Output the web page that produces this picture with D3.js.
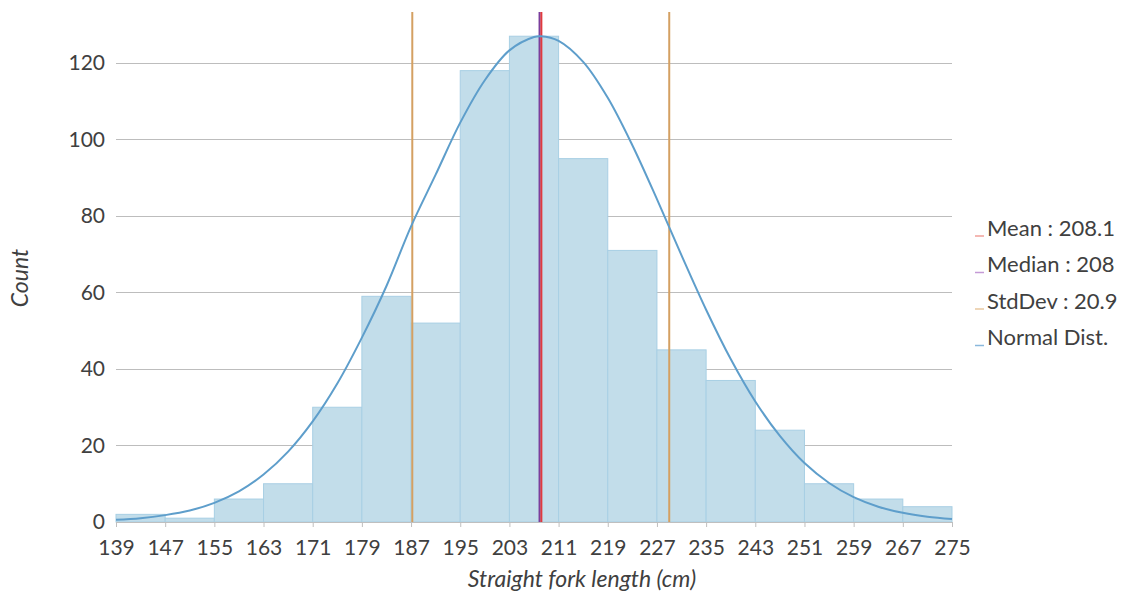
<!DOCTYPE html>
<html lang="en">
<head>
    <meta charset="UTF-8">
    <title>Straight fork length histogram</title>
    <script src="https://d3js.org/d3.v7.min.js"></script>
    <style>
        body { margin: 0; background: #fff; }
        svg text { font-family: Lato, "Open Sans", sans-serif; fill: #404040; }
    </style>
</head>
<body>
    <script>
        // histogram bins (lower edge, width 8)
        const binEdges = [139, 147, 155, 163, 171, 179, 187, 195, 203, 211, 219, 227, 235, 243, 251, 259, 267, 275];
        const counts = [2, 1, 6, 10, 30, 59, 52, 118, 127, 95, 71, 45, 37, 24, 10, 6, 4];

        // normal dist curve
        const curveX = [139, 143, 147, 151, 155, 159, 163, 167, 171, 175, 179, 183, 187, 191, 195, 199, 203, 207, 208.1,
                        211, 215, 219, 223, 227, 231, 235, 239, 243, 247, 251, 255, 259, 263, 267, 271, 275];
        const curveY = [0.6, 1.0, 1.8, 3.0, 5.0, 8.0, 12.4, 18.4, 26.3, 36.2, 48.2, 61.7, 77.3, 90.8, 104.4, 115.5, 123.3, 126.8, 127,
                        125.8, 120.3, 110.9, 98.5, 84.4, 69.7, 55.5, 42.6, 31.5, 22.5, 15.4, 10.2, 6.5, 4.0, 2.4, 1.4, 0.8];

        const yTicks = [0, 20, 40, 60, 80, 100, 120];
        const mean = 208.1, median = 208, stdDev = 20.9;
        const legendItems = ["Mean : 208.1", "Median : 208", "StdDev : 20.9", "Normal Dist."];
        const legendColors = ["#f0a09a", "#c49ad6", "#e8c8a0", "#8ab8dc"];

        const W = 1124, H = 592;
        const plotLeft = 116, plotRight = 952, plotTop = 12, plotBottom = 522;

        const svg = d3.select("body").append("svg")
            .attr("width", W).attr("height", H);

        const x = d3.scaleLinear().domain([139, 275]).range([plotLeft, plotRight]);
        const y = d3.scaleLinear().domain([0, 133.33]).range([plotBottom, plotTop]);

        // gridlines
        svg.append("g").selectAll("line")
            .data(yTicks.filter(d => d > 0))
            .enter().append("line")
            .attr("x1", plotLeft).attr("x2", plotRight)
            .attr("y1", d => Math.round(y(d)) + 0.5).attr("y2", d => Math.round(y(d)) + 0.5)
            .attr("stroke", "#bdbdbd").attr("stroke-width", 1);

        // y labels
        svg.append("g").selectAll("text")
            .data(yTicks)
            .enter().append("text")
            .attr("x", 105).attr("y", d => y(d))
            .attr("dy", "0.35em")
            .attr("text-anchor", "end")
            .style("font-size", "21px")
            .text(d => d);

        // bars
        svg.append("g").selectAll("rect")
            .data(counts)
            .enter().append("rect")
            .attr("x", (d, i) => x(binEdges[i]))
            .attr("width", (d, i) => x(binEdges[i + 1]) - x(binEdges[i]))
            .attr("y", d => y(d))
            .attr("height", d => y(0) - y(d))
            .attr("fill", "#c2ddea")
            .attr("stroke", "#a8cfe4")
            .attr("stroke-width", 1);

        // x axis
        const xAxis = d3.axisBottom(x)
            .tickValues(binEdges)
            .tickSize(5)
            .tickPadding(13)
            .tickFormat(d3.format("d"));
        const gx = svg.append("g")
            .attr("transform", `translate(0,${plotBottom})`)
            .call(xAxis);
        gx.select(".domain").attr("stroke", "#bfbfbf");
        gx.selectAll(".tick line").attr("stroke", "#bfbfbf");
        gx.selectAll(".tick text")
            .style("font-size", "21px")
            .style("font-family", "Lato, 'Open Sans', sans-serif")
            .attr("fill", "#404040");

        // std dev lines
        svg.append("g").selectAll("line")
            .data([mean - stdDev, mean + stdDev])
            .enter().append("line")
            .attr("x1", d => x(d)).attr("x2", d => x(d))
            .attr("y1", plotTop).attr("y2", plotBottom)
            .attr("stroke", "#d4a062").attr("stroke-width", 2);

        // median and mean
        svg.append("line")
            .attr("x1", x(median) - 0.6).attr("x2", x(median) - 0.6)
            .attr("y1", plotTop).attr("y2", plotBottom)
            .attr("stroke", "#7a3e9d").attr("stroke-width", 2);
        svg.append("line")
            .attr("x1", x(mean) + 0.6).attr("x2", x(mean) + 0.6)
            .attr("y1", plotTop).attr("y2", plotBottom)
            .attr("stroke", "#e03a3e").attr("stroke-width", 2);

        // normal curve
        const line = d3.line()
            .x(d => x(d[0]))
            .y(d => y(d[1]))
            .curve(d3.curveCatmullRom);
        svg.append("path")
            .datum(d3.zip(curveX, curveY))
            .attr("d", line)
            .attr("fill", "none")
            .attr("stroke", "#5e9ecb")
            .attr("stroke-width", 2);

        // legend
        const lg = svg.append("g").selectAll("g")
            .data(legendItems)
            .enter().append("g")
            .attr("transform", (d, i) => `translate(975,${228 + i * 36.5})`);
        lg.append("line")
            .attr("x1", 0).attr("x2", 9)
            .attr("y1", 8).attr("y2", 8)
            .attr("stroke", (d, i) => legendColors[i])
            .attr("stroke-width", 1.5);
        lg.append("text")
            .attr("x", 12).attr("y", 0)
            .attr("dy", "0.35em")
            .style("font-size", "22px")
            .text(d => d);

        // axis titles
        svg.append("text")
            .attr("transform", "translate(28,278) rotate(-90)")
            .attr("text-anchor", "middle")
            .style("font-size", "23px")
            .style("font-style", "italic")
            .text("Count");
        svg.append("text")
            .attr("x", 582).attr("y", 587)
            .attr("text-anchor", "middle")
            .style("font-size", "23px")
            .style("font-style", "italic")
            .text("Straight fork length (cm)");
    </script>
</body>
</html>
